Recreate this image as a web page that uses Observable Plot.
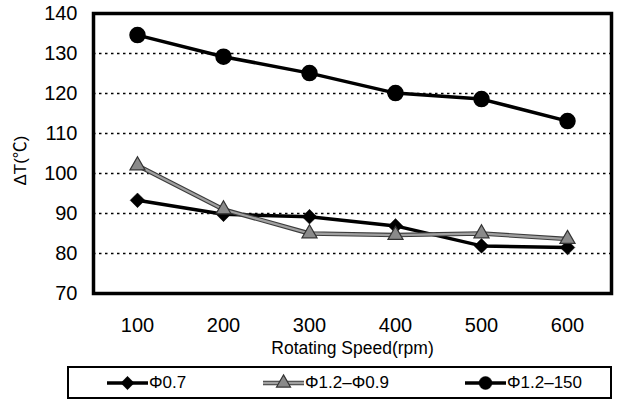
<!DOCTYPE html>
<html>
<head>
<meta charset="utf-8">
<script src="https://cdn.jsdelivr.net/npm/d3@7"></script>
<script src="https://cdn.jsdelivr.net/npm/@observablehq/plot@0.6"></script>
<style>
  html, body { margin: 0; padding: 0; background: white; }
  #wrap { position: relative; width: 618px; height: 402px; font-family: "Liberation Sans", "Noto Sans CJK KR", Arial, sans-serif; color: black; }
  #legend { position: absolute; left: 67px; top: 366px; width: 541px; height: 29px; border: 2.5px solid black; }
  .entry { position: absolute; top: 0; height: 29px; display: flex; align-items: center; font-size: 17px; }
  .entry svg { display: block; margin-right: 1px; }
</style>
</head>
<body>
<div id="wrap"></div>
<script>
// ---- data ----
const speeds = ["100", "200", "300", "400", "500", "600"];
const phi07 = [93.3, 89.8, 89.2, 86.9, 81.9, 81.5];
const phi1209 = [102.0, 91.0, 85.0, 84.6, 85.0, 83.6];
const phi12150 = [134.6, 129.2, 125.1, 120.1, 118.6, 113.1];
const seriesNames = ["Φ0.7", "Φ1.2–Φ0.9", "Φ1.2–150"];
const yTicks = [70, 80, 90, 100, 110, 120, 130, 140];
const gridTicks = [80, 90, 100, 110, 120, 130];
const xLabel = "Rotating Speed(rpm)";
const yLabel = "ΔT(℃)";

const rows = (vals) => speeds.map((s, i) => ({speed: s, value: vals[i]}));
const d07 = rows(phi07), d1209 = rows(phi1209), d12150 = rows(phi12150);

const chart = Plot.plot({
  width: 618,
  height: 364,
  marginLeft: 93,
  marginRight: 7,
  marginTop: 13,
  marginBottom: 71,
  x: {type: "point", domain: speeds, padding: 0.5},
  y: {domain: [70, 140]},
  style: {fontFamily: "'Liberation Sans', 'Noto Sans CJK KR', Arial, sans-serif", background: "white", color: "black"},
  marks: [
    Plot.gridY(gridTicks, {stroke: "black", strokeOpacity: 1, strokeWidth: 1.5, strokeDasharray: "2.5,3.5"}),
    Plot.axisY(yTicks, {tickSize: 0, tickPadding: 16, fontSize: 20, label: null, fill: "black"}),
    Plot.axisX(speeds, {tickSize: 0, tickPadding: 24, fontSize: 20, label: null, fill: "black"}),
    // Φ0.7 (diamonds)
    Plot.line(d07, {x: "speed", y: "value", stroke: "black", strokeWidth: 3.5}),
    Plot.dot(d07, {x: "speed", y: "value", symbol: "diamond2", r: 6.6, fill: "black", stroke: "black", strokeWidth: 0.5}),
    // Φ1.2–Φ0.9 (triangles)
    Plot.line(d1209, {x: "speed", y: "value", stroke: "#3c3c3c", strokeWidth: 4.5}),
    Plot.line(d1209, {x: "speed", y: "value", stroke: "#a0a0a0", strokeWidth: 2.3}),
    Plot.dot(d1209, {x: "speed", y: "value", symbol: "triangle", r: 5.6, fill: "#8a8a8a", stroke: "#333", strokeWidth: 1.2}),
    // Φ1.2–150 (circles)
    Plot.line(d12150, {x: "speed", y: "value", stroke: "black", strokeWidth: 3.5}),
    Plot.dot(d12150, {x: "speed", y: "value", symbol: "circle", r: 7.5, fill: "black", stroke: "black"}),
    Plot.frame({stroke: "black", strokeWidth: 3.5}),
    Plot.text([yLabel], {text: d => d, frameAnchor: "left", textAnchor: "middle", rotate: -90, dx: -73, dy: 7, fontSize: 17, fill: "black"}),
    Plot.text([xLabel], {text: d => d, frameAnchor: "bottom", textAnchor: "middle", dy: 60, fontSize: 17.5, fill: "black"})
  ]
});

const wrap = document.getElementById("wrap");
chart.style.position = "absolute";
chart.style.left = "0px";
chart.style.top = "0px";
wrap.appendChild(chart);

// ---- legend ----
const legend = document.createElement("div");
legend.id = "legend";
wrap.appendChild(legend);

const legendStyles = [
  {symbol: d3.symbolDiamond2, r: 6.0, fill: "black", stroke: "black", sw: 0.5, lines: [{c: "black", w: 3.5}]},
  {symbol: d3.symbolTriangle, r: 5.2, fill: "#8a8a8a", stroke: "#333", sw: 1.2, lines: [{c: "#3c3c3c", w: 4.5}, {c: "#a0a0a0", w: 2.3}]},
  {symbol: d3.symbolCircle, r: 6.5, fill: "black", stroke: "black", sw: 0.5, lines: [{c: "black", w: 3.5}]}
];
const entryLeft = [38, 194, 396]; // relative to legend box inner
seriesNames.forEach((name, i) => {
  const st = legendStyles[i];
  const e = document.createElement("div");
  e.className = "entry";
  e.style.left = entryLeft[i] + "px";
  const svg = d3.create("svg").attr("width", 41).attr("height", 20);
  st.lines.forEach(l => svg.append("line").attr("x1", 0).attr("x2", 41).attr("y1", 10).attr("y2", 10)
    .attr("stroke", l.c).attr("stroke-width", l.w));
  svg.append("path").attr("transform", "translate(20.5,10)")
    .attr("d", d3.symbol(st.symbol, Math.PI * st.r * st.r)())
    .attr("fill", st.fill).attr("stroke", st.stroke).attr("stroke-width", st.sw);
  e.appendChild(svg.node());
  const t = document.createElement("span");
  t.textContent = name;
  e.appendChild(t);
  legend.appendChild(e);
});
</script>
</body>
</html>
